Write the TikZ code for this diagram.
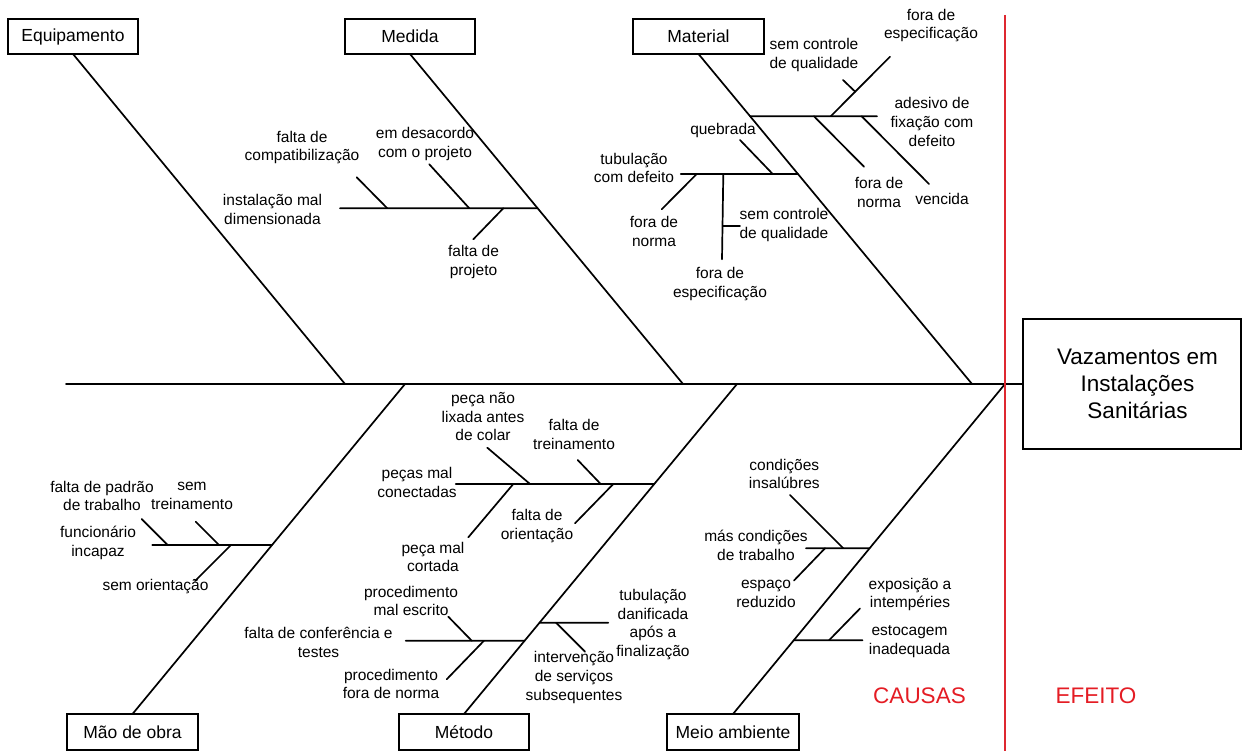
\documentclass[tikz,border=0pt]{standalone}
\usepackage{fontspec}
\setmainfont{Liberation Sans}
\usetikzlibrary{calc}
\definecolor{splitred}{RGB}{222,40,48}
\definecolor{textred}{RGB}{228,28,36}
\tikzset{
  bone/.style={line width=1.7, line cap=round},
  lbl/.style={align=center, inner sep=0, font=\fontsize{15.5}{18.8}\selectfont},
  catbox/.style={draw, line width=1.6, inner sep=0, outer sep=0, minimum width=130,
    minimum height=35, font=\fontsize{17.5}{21}\selectfont},
  redlbl/.style={inner sep=0, text=textred, font=\fontsize{22.5}{27}\selectfont}
}

\begin{document}
\begin{tikzpicture}[x=1pt,y=-1pt]
\useasboundingbox (0,0) rectangle (1247,751);
% category boxes
\node[catbox] (equip) at (73,36.5) {Equipamento};
\node[catbox] (medida) at (410,36.5) {Medida};
\node[catbox,minimum width=131] (material) at (698.5,36.5) {Material};
\node[catbox,minimum width=131,minimum height=36] (maoobra) at (132.5,732) {Mão de obra};
\node[catbox,minimum height=36] (metodo) at (464,732) {Método};
\node[catbox,minimum width=132,minimum height=36] (meio) at (733,732) {Meio ambiente};
\node[catbox,minimum width=218,minimum height=130,align=center,
  font=\fontsize{22.5}{26.7}\selectfont] (efeito) at (1132,384)
  {\hspace*{11pt}Vazamentos em\\\hspace*{11pt}Instalações\\\hspace*{11pt}Sanitárias};
% spine and main bones
\coordinate (tail) at (66,384);
\coordinate (equip-s) at (345,384);
\coordinate (medida-s) at (683,384);
\coordinate (material-s) at (972,384);
\coordinate (maoobra-s) at (405,384);
\coordinate (metodo-s) at (737,384);
\coordinate (meio-s) at (1005,384);
\draw[bone] (tail) -- (efeito.west);
\draw[bone] (equip.south) -- (equip-s);
\draw[bone] (medida.south) -- (medida-s);
\draw[bone] (material.south) -- (material-s);
\draw[bone] (maoobra.north) -- (maoobra-s);
\draw[bone] (metodo.north) -- (metodo-s);
\draw[bone] (meio.north) -- (meio-s);
% causes / effect split
\coordinate (split-t) at (1005,15);
\coordinate (split-b) at (1005,751);
\draw[line width=1.5, splitred] (split-t) -- (split-b);
\node[redlbl] (causas) at (919.5,696) {CAUSAS};
\node[redlbl] (efeitolbl) at (1096,696) {EFEITO};

% Medida
\coordinate (me-h) at ($(medida.south)!0.4676!(medida-s)$);
\coordinate (me-h0) at (340,208.3);
\coordinate (me-a1) at (356.7,177.3); \coordinate (me-a2) at (387.3,208.3);
\coordinate (me-b1) at (429.3,164.3); \coordinate (me-b2) at (469.3,208.3);
\coordinate (me-c1) at (503.3,208.3); \coordinate (me-c2) at (473.3,239.3);
\draw[bone] (me-h0) -- (me-h);
\draw[bone] (me-a1) -- (me-a2);
\draw[bone] (me-b1) -- (me-b2);
\draw[bone] (me-c1) -- (me-c2);
\node[lbl] (compat) at (302,147.5) {falta de\\compatibilização};
\node[lbl] (desacordo) at (425,144) {em desacordo\\com o projeto};
\node[lbl] (instal) at (272.5,209.5) {instalação mal\\dimensionada};
\node[lbl] (fproj) at (473.5,262) {falta de\\projeto};

% Material
\coordinate (ma-u) at ($(material.south)!0.1888!(material-s)$);
\coordinate (ma-u1) at (877,116.3);
\coordinate (ma-a1) at (830.7,116.3); \coordinate (ma-a2) at (890,56.7);
\coordinate (ma-t1) at (843,80); \coordinate (ma-t2) at (855.2,91.7);
\coordinate (ma-b1) at (814,116.3); \coordinate (ma-b2) at (864,166.7);
\coordinate (ma-c1) at (861.7,116.3); \coordinate (ma-c2) at (929,184);
\draw[bone] (ma-u) -- (ma-u1);
\draw[bone] (ma-a1) -- (ma-a2);
\draw[bone] (ma-t1) -- (ma-t2);
\draw[bone] (ma-b1) -- (ma-b2);
\draw[bone] (ma-c1) -- (ma-c2);
\coordinate (ma-l) at ($(material.south)!0.3636!(material-s)$);
\coordinate (ma-l0) at (680.7,174);
\coordinate (ma-d1) at (740,140); \coordinate (ma-d2) at (772.7,174);
\coordinate (ma-e1) at (696.7,174); \coordinate (ma-e2) at (661.7,209.3);
\coordinate (ma-f1) at (723.3,174); \coordinate (ma-f2) at (722,259.3);
\coordinate (ma-g1) at (723,225.7); \coordinate (ma-g2) at (740,225.7);
\draw[bone] (ma-l0) -- (ma-l);
\draw[bone] (ma-d1) -- (ma-d2);
\draw[bone] (ma-e1) -- (ma-e2);
\draw[bone] (ma-f1) -- (ma-f2);
\draw[bone] (ma-g1) -- (ma-g2);
\node[lbl] (espec1) at (931,25.5) {fora de\\especificação};
\node[lbl] (semctl1) at (814,55) {sem controle\\de qualidade};
\node[lbl] (adesivo) at (932,122) {adesivo de\\fixação com\\defeito};
\node[lbl] (norma1) at (879,192.5) {fora de\\norma};
\node[lbl] (vencida) at (942,199) {vencida};
\node[lbl] (tubdef) at (634,168) {tubulação\\com defeito};
\node[lbl] (quebrada) at (723,130) {quebrada};
\node[lbl] (norma2) at (654,231.5) {fora de\\norma};
\node[lbl] (semctl2) at (784,225) {sem controle\\de qualidade};
\node[lbl] (espec2) at (720,284) {fora de\\especificação};

% Mao de obra
\coordinate (mo-h) at ($(maoobra.north)!0.5121!(maoobra-s)$);
\coordinate (mo-h0) at (152.3,545);
\coordinate (mo-a1) at (141.7,519); \coordinate (mo-a2) at (167.7,545);
\coordinate (mo-b1) at (195.7,521.7); \coordinate (mo-b2) at (219,545);
\coordinate (mo-c1) at (231,545); \coordinate (mo-c2) at (195,581);
\draw[bone] (mo-h0) -- (mo-h);
\draw[bone] (mo-a1) -- (mo-a2);
\draw[bone] (mo-b1) -- (mo-b2);
\draw[bone] (mo-c1) -- (mo-c2);
\node[lbl] (padrao) at (102,496) {falta de padrão\\de trabalho};
\node[lbl] (semtrein) at (192,496) {sem\\treinamento};
\node[lbl] (funcion) at (98,542.5) {funcionário\\incapaz};
\node[lbl] (semorient) at (155.5,587) {sem orientação};

% Metodo
\coordinate (mt-u) at ($(metodo.north)!0.6970!(metodo-s)$);
\coordinate (mt-u0) at (455.7,484);
\coordinate (mt-a1) at (487.3,447.7); \coordinate (mt-a2) at (530,484);
\coordinate (mt-b1) at (577.7,460); \coordinate (mt-b2) at (600.7,484);
\coordinate (mt-c1) at (513.3,484); \coordinate (mt-c2) at (468.3,537.3);
\coordinate (mt-d1) at (613.3,484); \coordinate (mt-d2) at (575,523.3);
\draw[bone] (mt-u0) -- (mt-u);
\draw[bone] (mt-a1) -- (mt-a2);
\draw[bone] (mt-b1) -- (mt-b2);
\draw[bone] (mt-c1) -- (mt-c2);
\draw[bone] (mt-d1) -- (mt-d2);
\coordinate (mt-l) at ($(metodo.north)!0.2221!(metodo-s)$);
\coordinate (mt-l0) at (405.7,640.7);
\coordinate (mt-e1) at (448.3,616.7); \coordinate (mt-e2) at (471.7,640.7);
\coordinate (mt-f1) at (484,640.7); \coordinate (mt-f2) at (446.7,679.3);
\draw[bone] (mt-l0) -- (mt-l);
\draw[bone] (mt-e1) -- (mt-e2);
\draw[bone] (mt-f1) -- (mt-f2);
\coordinate (mt-r) at ($(metodo.north)!0.2767!(metodo-s)$);
\coordinate (mt-r1) at (608.3,622.7);
\coordinate (mt-g1) at (556,622.7); \coordinate (mt-g2) at (585,651.7);
\draw[bone] (mt-r) -- (mt-r1);
\draw[bone] (mt-g1) -- (mt-g2);
\node[lbl] (lixada) at (483,416.7) {peça não\\lixada antes\\de colar};
\node[lbl] (ftrein) at (574,434.5) {falta de\\treinamento};
\node[lbl] (conect) at (417,482.5) {peças mal\\conectadas};
\node[lbl] (forient) at (537,526) {falta de\\orientação};
\node[lbl] (cortada) at (433,557) {peça mal\\cortada};
\node[lbl] (malescr) at (411,601) {procedimento\\mal escrito};
\node[lbl] (confer) at (318.5,642.5) {falta de conferência e\\testes};
\node[lbl] (procnorma) at (391,684) {procedimento\\fora de norma};
\node[lbl] (danif) at (653,624.5) {tubulação\\danificada\\após a\\finalização};
\node[lbl] (interv) at (574,677.5) {intervenção\\de serviços\\subsequentes};

% Meio ambiente
\coordinate (mb-u) at ($(meio.north)!0.5021!(meio-s)$);
\coordinate (mb-u0) at (806,548.3);
\coordinate (mb-a1) at (790,495); \coordinate (mb-a2) at (843.3,548.3);
\coordinate (mb-b1) at (825,548.3); \coordinate (mb-b2) at (794,580.5);
\draw[bone] (mb-u0) -- (mb-u);
\draw[bone] (mb-a1) -- (mb-a2);
\draw[bone] (mb-b1) -- (mb-b2);
\coordinate (mb-l) at ($(meio.north)!0.2233!(meio-s)$);
\coordinate (mb-l1) at (862.5,640.3);
\coordinate (mb-c1) at (829,640.3); \coordinate (mb-c2) at (860,608.5);
\draw[bone] (mb-l) -- (mb-l1);
\draw[bone] (mb-c1) -- (mb-c2);
\node[lbl] (insal) at (784.3,474) {condições\\insalúbres};
\node[lbl] (mascond) at (756,545) {más condições\\de trabalho};
\node[lbl] (espaco) at (766,594) {espaço\\reduzido};
\node[lbl] (expos) at (910,594.5) {exposição a\\intempéries};
\node[lbl] (estoc) at (909.5,641.5) {estocagem\\inadequada};
\end{tikzpicture}
\end{document}
